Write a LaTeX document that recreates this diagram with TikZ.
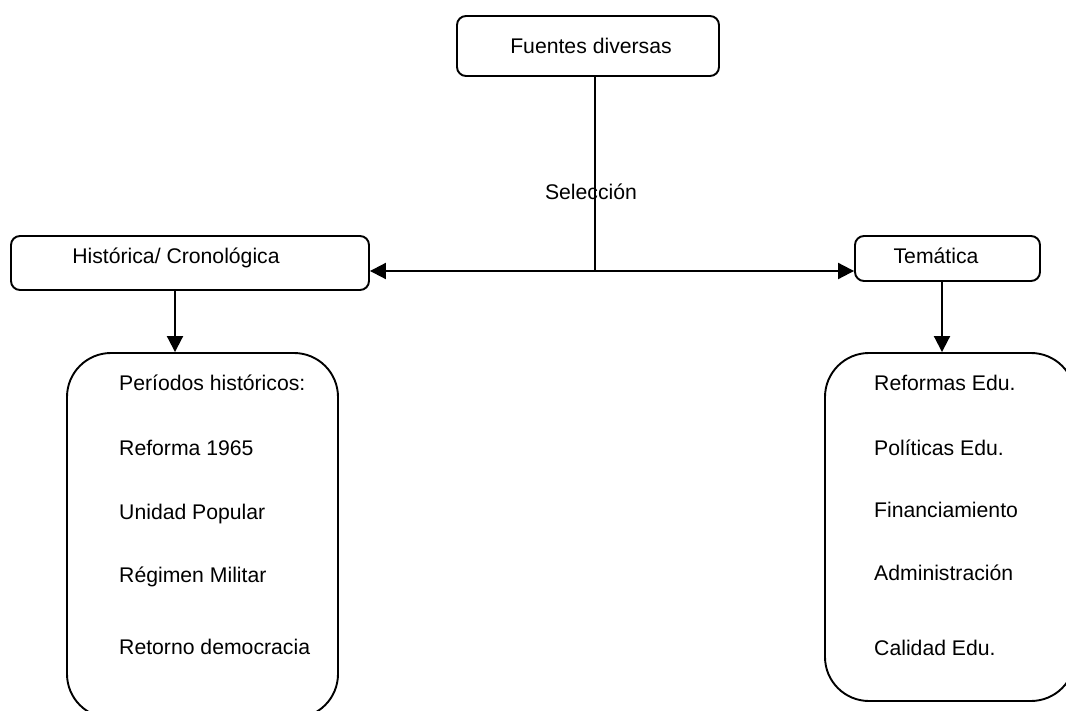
\documentclass[tikz,border=0pt]{standalone}
\usepackage{fontspec}
\setmainfont{Liberation Sans}
\usetikzlibrary{arrows.meta}
\begin{document}
\begin{tikzpicture}[x=1pt,y=-1pt,
  box/.style={draw=black,line width=1.9pt,rounded corners=9pt,inner sep=0pt},
  bigbox/.style={draw=black,line width=1.9pt,rounded corners=44pt,inner sep=0pt},
  txt/.style={inner sep=0pt,text height=15pt,text depth=0pt,font=\fontsize{21.2}{25}\selectfont},
  item/.style={txt,anchor=west},
  conn/.style={line width=2pt},
  arr/.style={line width=2pt,-{Triangle[length=16pt,width=16pt]}}]
\useasboundingbox (0,0) rectangle (1066,711);
\begin{scope}
\clip (0,0) rectangle (1066,711);
% boxes
\node[box,minimum width=262pt,minimum height=60pt] (top) at (588,46) {};
\node[box,minimum width=358pt,minimum height=54pt] (hist) at (190,263) {};
\node[box,minimum width=185pt,minimum height=45pt] (tema) at (947.5,258.5) {};
\node[bigbox,minimum width=271pt,minimum height=365pt] (lbig) at (202.5,535.5) {};
\node[bigbox,minimum width=250pt,minimum height=348pt] (rbig) at (950,527) {};
\end{scope}
% labels
\node[txt] (ttop) at (591,46) {Fuentes diversas};
\node[txt] (thist) at (176,256) {Histórica/ Cronológica};
\node[txt] (ttema) at (936,256) {Temática};
\node[txt] (sel) at (591,192) {Selección};
% left list
\node[item] (l1) at (119,383) {Períodos históricos:};
\node[item] (l2) at (119,448) {Reforma 1965};
\node[item] (l3) at (119,512) {Unidad Popular};
\node[item] (l4) at (119,575) {Régimen Militar};
\node[item] (l5) at (119,647) {Retorno democracia};
% right list
\node[item] (r1) at (874,383) {Reformas Edu.};
\node[item] (r2) at (874,448) {Políticas Edu.};
\node[item] (r3) at (874,510) {Financiamiento};
\node[item] (r4) at (874,573) {Administración};
\node[item] (r5) at (874,648) {Calidad Edu.};
% connectors
\coordinate (J) at (595,271);
\draw[conn] (J |- top.south) -- (J);
\draw[arr] (J) -- (J -| hist.east);
\draw[arr] (J) -- (J -| tema.west);
\draw[arr] (hist.south -| 175,0) -- (lbig.north -| 175,0);
\draw[arr] (tema.south -| 942,0) -- (rbig.north -| 942,0);
\end{tikzpicture}
\end{document}
